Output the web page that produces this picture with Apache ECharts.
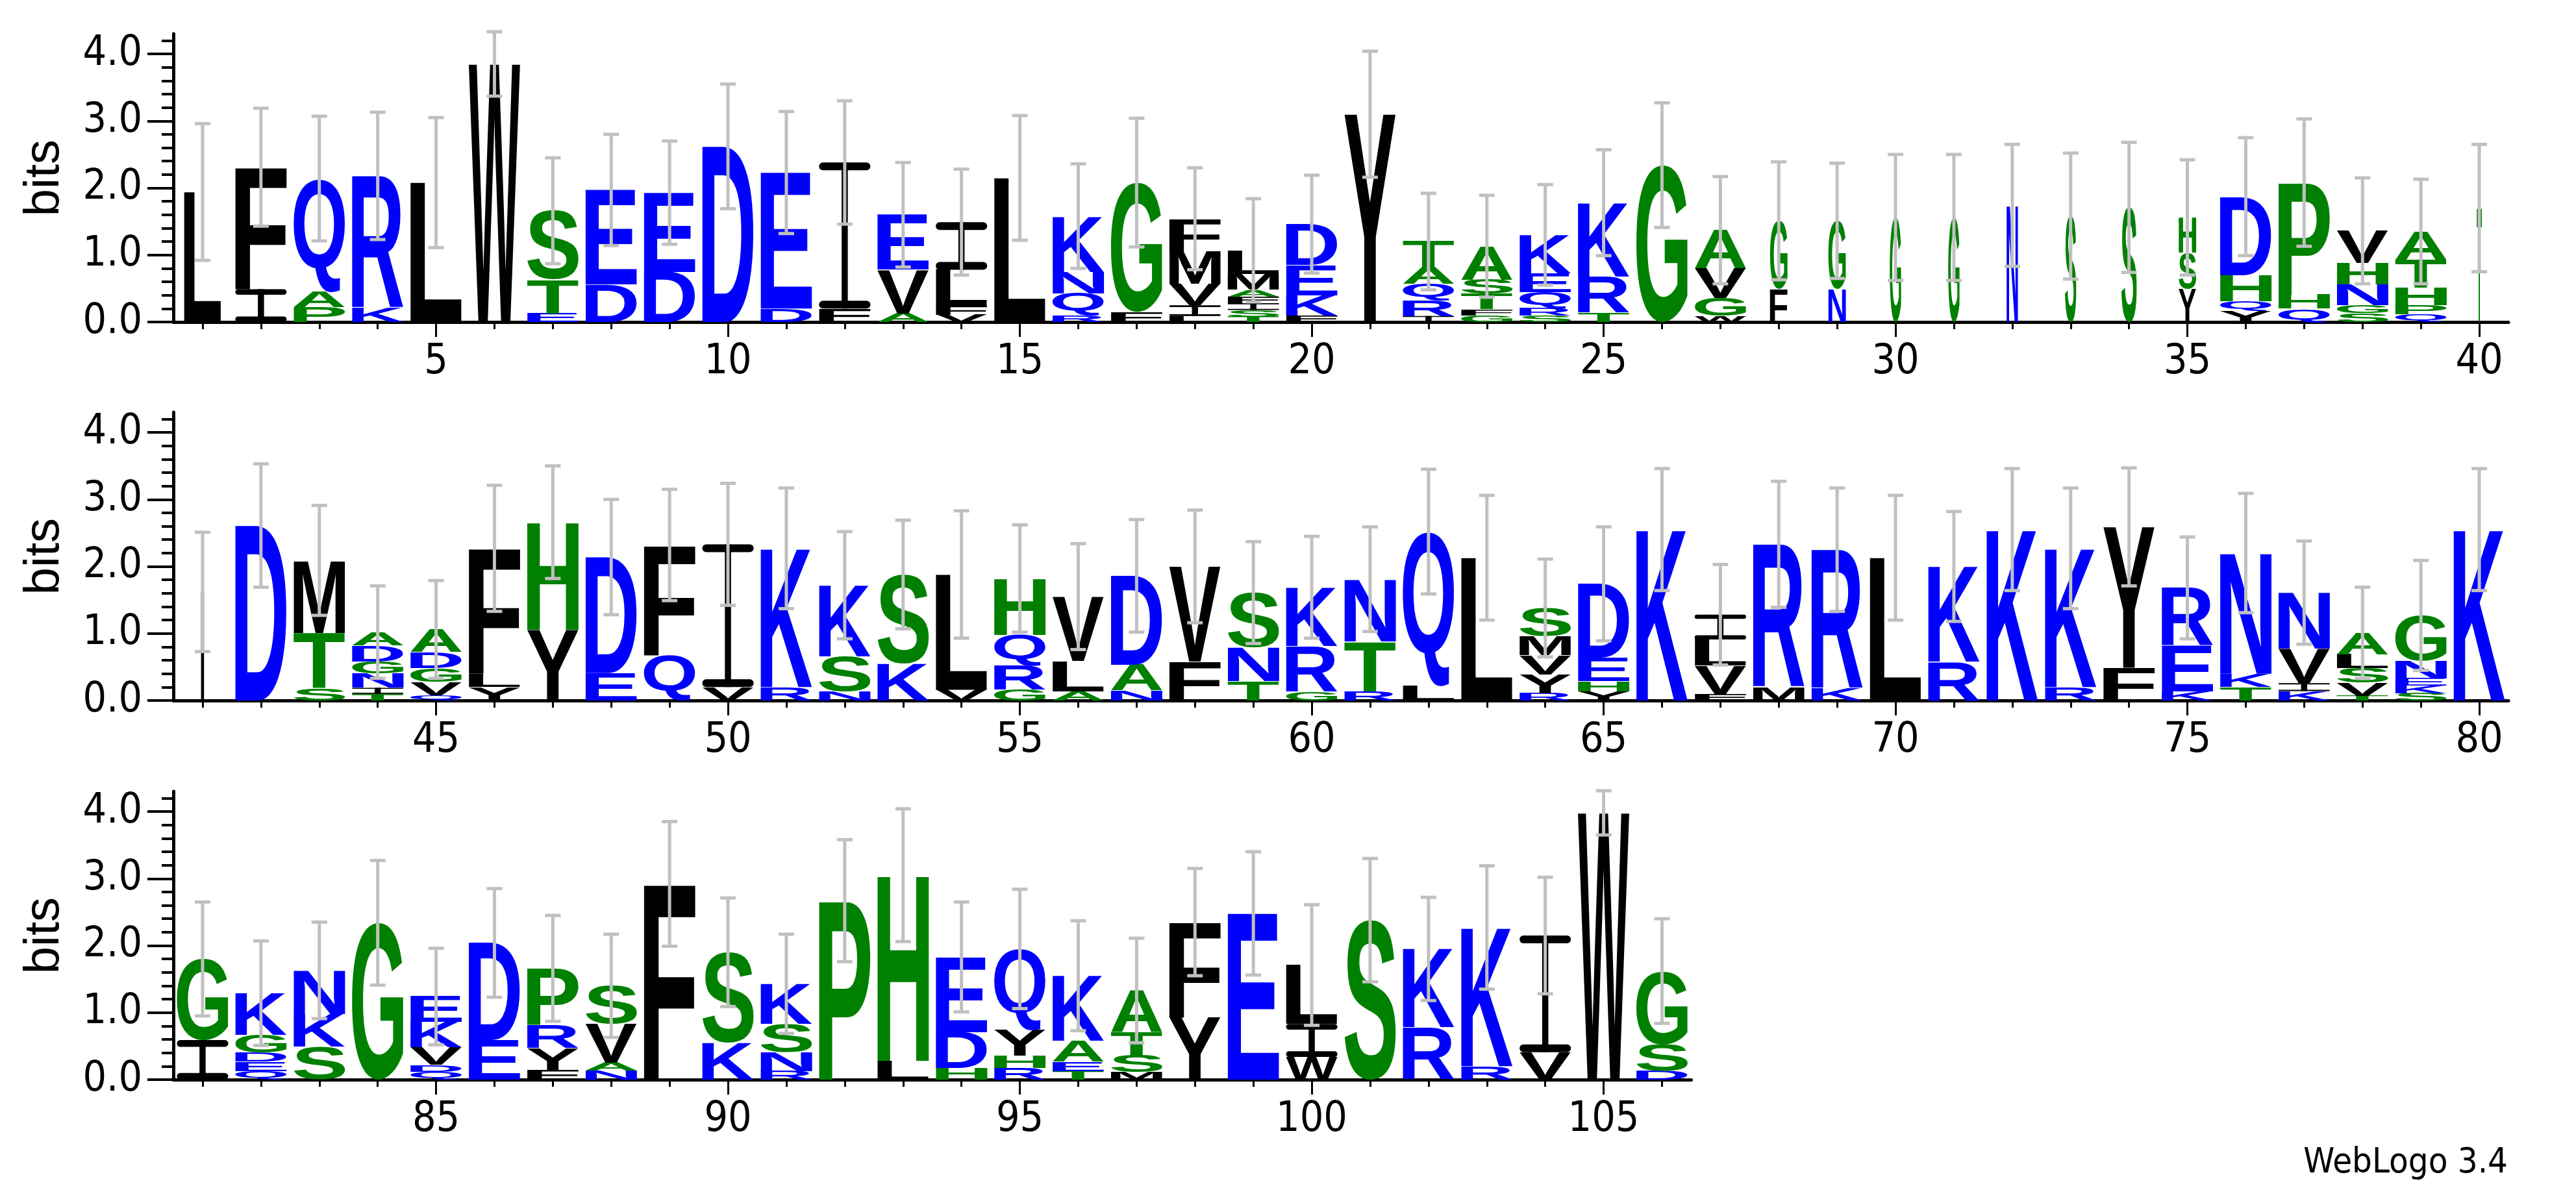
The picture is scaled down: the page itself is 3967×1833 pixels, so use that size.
<!DOCTYPE html>
<html><head><meta charset="utf-8">
<script src="https://cdn.jsdelivr.net/npm/echarts@6/dist/echarts.min.js"></script>
<style>html,body{margin:0;padding:0;background:#fff}#c{width:3967px;height:1833px}</style>
</head><body><div id="c"></div>
<script>
// Letters per position, bottom to top
const letters = [
"L","IF","PAQ","KR","L","W","ETS","DE","DE","D","DE","FI","AVE","VFLI","L","RQNK","FG","LIVMF","TSIFAML","FKED","Y","IRQAT","GFTSA","SRQEK","TRK","G",
"WGVA","FG","NG","G","G","N","S","S","YSH","YQHD","QHP","SGNHV","QPHTA","T",
"I","D","STM","TINGDA","QVGDA","YLF","YH","ED","QF","VI","RK","NSK","KS","VL","GRQH","ALV","NAD","FV","TNS","GRK","RTN","LQ","L","RYVMS","YHED","K",
"FVLI","MR","KR","L","RK","K","RK","FY","KER","TKN","KIVN","TVSLA","SKENG","K",
"IG","QEDGK","SKN","G","QDVKE","ED","FYRP","NAVS","F","KS","RNSK","P","LH","HDE","RHYQ","TEAK","MSTA","YF","E","WIL","S","RK","RK","VI","W","DSG"
];
const heights = [
[1.94],[0.49,1.82],[0.22,0.23,1.69],[0.21,1.97],[2.08],[3.85],[0.13,0.5,1.03],[0.56,1.41],[0.75,1.18],[2.62],[0.2,2.03],[0.2,2.18],
[0.13,0.65,0.82],[0.11,0.13,0.54,0.71],[2.15],[0.1,0.33,0.32,0.83],[0.15,1.93],[0.09,0.16,0.32,0.49,0.48],[0.08,0.1,0.1,0.1,0.1,0.24,0.35],
[0.1,0.3,0.45,0.61],[3.1],[0.09,0.23,0.25,0.25,0.38],[0.1,0.09,0.23,0.21,0.5],[0.1,0.11,0.24,0.28,0.57],[0.14,0.54,1.1],[2.34],
[0.09,0.27,0.44,0.57],[0.49,1.02],[0.49,1.02],[1.56],[1.56],[1.74],[1.58],[1.71],[0.5,0.54,0.52],[0.16,0.15,0.39,1.17],[0.2,0.21,1.67],
[0.13,0.12,0.31,0.32,0.48],[0.12,0.13,0.26,0.42,0.42],[1.7],
[1.62],[2.61],[0.18,0.83,1.08],[0.1,0.09,0.21,0.18,0.24,0.2],[0.08,0.2,0.2,0.24,0.34],[0.2,0.2,1.87],[1.06,1.6],[0.41,1.73],[0.68,1.64],
[0.2,2.13],[0.2,2.07],[0.14,0.52,1.06],[0.55,1.33],[0.16,1.72],[0.16,0.36,0.46,0.84],[0.14,0.45,0.96],[0.15,0.38,1.33],[0.58,1.42],
[0.29,0.5,0.82],[0.13,0.68,0.88],[0.14,0.74,0.93],[0.22,2.3],[2.13],[0.11,0.28,0.29,0.28,0.42],[0.14,0.15,0.35,1.1],[2.55],
[0.1,0.42,0.39,0.37],[0.2,2.13],[0.18,2.07],[2.13],[0.58,1.42],[2.55],[0.2,2.07],[0.49,2.1],[0.14,0.68,0.86],[0.2,0.2,1.8],
[0.14,0.12,0.51,0.84],[0.07,0.2,0.21,0.21,0.32],[0.11,0.11,0.11,0.26,0.68],[2.55],
[0.59,1.21],[0.13,0.14,0.13,0.27,0.62],[0.49,0.49,0.65],[2.34],[0.12,0.1,0.26,0.38,0.38],[0.59,1.45],[0.15,0.32,0.34,0.85],
[0.13,0.12,0.58,0.57],[2.92],[0.55,1.35],[0.13,0.28,0.42,0.6],[2.67],[0.28,2.77],[0.17,0.54,1.12],[0.17,0.19,0.38,1.21],
[0.13,0.14,0.31,0.97],[0.11,0.25,0.35,0.62],[0.93,1.42],[2.48],[0.34,0.49,0.88],[2.38],[0.78,1.17],[0.2,2.07],[0.41,1.74],[3.98],[0.13,0.4,1.09]
];
// Top of the error bar for each position (bits)
const errTop = [
2.96,3.19,3.07,3.13,3.05,4.33,2.45,2.8,2.7,3.55,3.14,3.3,2.38,2.28,3.08,2.36,3.04,2.3,1.84,2.19,4.04,1.92,1.89,2.05,2.57,3.27,
2.17,2.39,2.37,2.5,2.5,2.65,2.52,2.68,2.42,2.75,3.03,2.15,2.13,2.65,
2.51,3.53,2.91,1.71,1.79,3.21,3.5,3.0,3.15,3.24,3.17,2.52,2.69,2.83,2.62,2.34,2.7,2.84,2.37,2.45,2.59,3.45,3.06,2.11,2.59,3.46,
2.03,3.27,3.17,3.06,2.82,3.46,3.17,3.47,2.44,3.09,2.38,1.69,2.09,3.46,
2.65,2.07,2.35,3.27,1.96,2.85,2.45,2.17,3.85,2.71,2.17,3.58,4.04,2.65,2.84,2.37,2.11,3.15,3.4,2.61,3.3,2.72,3.19,3.02,4.31,2.4
];
// Relative column widths (1 = full)
const widths = {1:0.72,28:0.34,29:0.34,30:0.22,31:0.22,32:0.22,33:0.22,34:0.3,35:0.34,40:0.1,41:0.06};
const yMajor = [0,1,2,3,4];
const rows = [{from:1,to:40,zero:496},{from:41,to:80,zero:1079},{from:81,to:106,zero:1663}];

const BLACK = "FILMVWYC", BLUE = "DEKRQN";
function colorOf(c){ return BLACK.includes(c) ? '#000000' : (BLUE.includes(c) ? '#0000ff' : '#008000'); }
const FONT = 'bold 200px "Liberation Sans", Arial, sans-serif';
const cv = document.createElement('canvas').getContext('2d');
cv.font = FONT; cv.textBaseline = 'middle';
const metrics = {};
function metric(c){
  if(!metrics[c]){ const m = cv.measureText(c);
    metrics[c] = {L:m.actualBoundingBoxLeft, R:m.actualBoundingBoxRight, A:m.actualBoundingBoxAscent, D:m.actualBoundingBoxDescent}; }
  return metrics[c];
}

const STEP = 89.9, LEFT = 267, PXBIT = 103.25, YMAX = 4.3;
const NARROW = '"Liberation Sans Narrow","DejaVu Sans Condensed","Liberation Sans",sans-serif';
const grids=[], xAxes=[], yAxes=[], series=[];
rows.forEach((r,i)=>{
  const n = r.to - r.from + 1;
  grids.push({left:LEFT, top:r.zero - YMAX*PXBIT, width:n*STEP, height:YMAX*PXBIT});
  const pos=[]; for(let p=r.from;p<=r.to;p++) pos.push(p);
  const majors = pos.filter(p=>p%5===0);
  const base = {type:'value', gridIndex:i, min:r.from-0.5, max:r.to+0.5, splitLine:{show:false}, position:'bottom'};
  xAxes.push(Object.assign({}, base, {
    axisLine:{show:true, onZero:false, lineStyle:{color:'#000', width:5}},
    axisTick:{show:true, customValues:pos, length:11, lineStyle:{color:'#000', width:3}},
    axisLabel:{show:true, customValues:majors, margin:30, color:'#000', fontFamily:NARROW, fontSize:64}
  }));
  xAxes.push(Object.assign({}, base, {
    axisLine:{show:false, onZero:false}, axisLabel:{show:false},
    axisTick:{show:true, customValues:majors, length:23, lineStyle:{color:'#000', width:3}}
  }));
  const yb = {type:'value', gridIndex:i, min:0, max:YMAX, splitLine:{show:false}, position:'left'};
  yAxes.push(Object.assign({}, yb, {
    name:'bits', nameLocation:'middle', nameGap:160, nameRotate:90,
    nameTextStyle:{fontFamily:'"Liberation Sans",Arial,sans-serif', fontSize:76, color:'#000'},
    axisLine:{show:true, onZero:false, lineStyle:{color:'#000', width:5}},
    axisTick:{show:true, customValues:yMajor, length:40, lineStyle:{color:'#000', width:4}},
    axisLabel:{show:true, customValues:yMajor, formatter:v=>v.toFixed(1), margin:48, color:'#000', fontFamily:NARROW, fontSize:64}
  }));
  const minors=[]; for(let k=1;k<=21;k++){ if(k%5) minors.push(k/5); }
  yAxes.push(Object.assign({}, yb, {
    axisLine:{show:false, onZero:false}, axisLabel:{show:false},
    axisTick:{show:true, customValues:minors, length:18, lineStyle:{color:'#000', width:4}}
  }));
  const lData=[], eData=[];
  for(let p=r.from;p<=r.to;p++){
    const s = letters[p-1], h = heights[p-1]; let y=0;
    for(let k=0;k<s.length;k++){ lData.push([p, y, y+h[k], p-1, k]); y+=h[k]; }
    eData.push([p, y, errTop[p-1], 2*y-errTop[p-1]]);
  }
  series.push({type:'custom', xAxisIndex:2*i, yAxisIndex:2*i, data:lData, z:2, silent:true,
    renderItem:(params, api)=>{
      const p=api.value(0), y0=api.value(1), y1=api.value(2);
      const ch = letters[api.value(3)][api.value(4)];
      const wf = (widths[p]||1)*0.88;
      const a = api.coord([p-wf/2, y1]), b = api.coord([p+wf/2, y0]);
      const w = b[0]-a[0], hh = b[1]-a[1];
      if(hh < 0.5) return null;
      const fill = colorOf(ch);
      if(ch === 'I' && w > 12){
        const bar = Math.min(hh*0.17, 12), stem = Math.max(2, w*0.12);
        return {type:'group', children:[
          {type:'rect', shape:{x:a[0], y:a[1], width:w, height:bar, r:bar/2}, style:{fill}},
          {type:'rect', shape:{x:a[0]+w/2-stem/2, y:a[1], width:stem, height:hh}, style:{fill}},
          {type:'rect', shape:{x:a[0], y:b[1]-bar, width:w, height:bar, r:bar/2}, style:{fill}}
        ]};
      }
      const m = metric(ch);
      const sx = w/(m.L+m.R), sy = hh/(m.A+m.D);
      return {type:'text', x:a[0]+m.L*sx, y:a[1]+m.A*sy, scaleX:sx, scaleY:sy,
        style:{text:ch, x:0, y:0, font:FONT, fill, align:'left', verticalAlign:'middle',
               textAlign:'left', textVerticalAlign:'middle'}};
    }});
  series.push({type:'custom', xAxisIndex:2*i, yAxisIndex:2*i, data:eData, z:5, silent:true,
    renderItem:(params, api)=>{
      const p=api.value(0);
      const hi = api.coord([p, api.value(2)]), lo = api.coord([p, Math.max(0,api.value(3))]);
      const st = {stroke:'#c0c0c0', lineWidth:5};
      const cw = 12;
      return {type:'group', children:[
        {type:'line', shape:{x1:hi[0],y1:hi[1],x2:lo[0],y2:lo[1]}, style:st},
        {type:'line', shape:{x1:hi[0]-cw,y1:hi[1],x2:hi[0]+cw,y2:hi[1]}, style:st},
        {type:'line', shape:{x1:lo[0]-cw,y1:lo[1],x2:lo[0]+cw,y2:lo[1]}, style:st}
      ]};
    }});
});

const chart = echarts.init(document.getElementById('c'), null, {renderer:'canvas'});
chart.setOption({
  backgroundColor:'#fff', animation:false,
  grid:grids, xAxis:xAxes, yAxis:yAxes, series:series,
  graphic:[{type:'text', right:105, bottom:14, style:{text:'WebLogo 3.4', fill:'#000', font:'54px '+NARROW}}]
});
</script></body></html>
